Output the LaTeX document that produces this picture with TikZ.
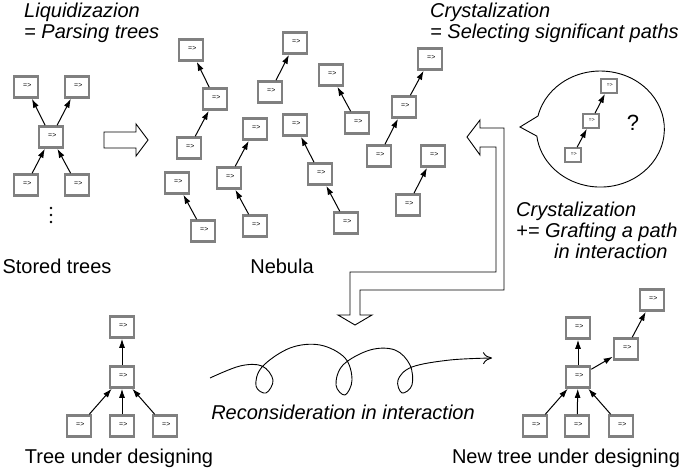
\documentclass[tikz,border=0pt]{standalone}
\usepackage{fontspec}
\setmainfont{Liberation Sans}
\usetikzlibrary{arrows.meta}
\tikzset{
  box/.style={draw=black!50, line width=2.6pt, fill=white, minimum width=24pt, minimum height=21pt, inner sep=0pt,
    path picture={\node[anchor=south west, font=\fontsize{7}{7}\selectfont, inner sep=3pt] at (path picture bounding box.south west) {=>};}},
  sbox/.style={box, line width=1.8pt, minimum width=16pt, minimum height=14pt,
    path picture={\node[anchor=south west, font=\fontsize{5}{5}\selectfont, inner sep=2pt] at (path picture bounding box.south west) {=>};}},
  edge/.style={-{Latex[length=9pt,width=6pt]}, line width=1pt},
  lbl/.style={font=\fontsize{20}{22}\selectfont, inner sep=0pt},
  ilbl/.style={font=\fontsize{20}{21}\selectfont\itshape, inner sep=0pt, align=left}
}
\begin{document}
\begin{tikzpicture}[x=1pt,y=-1pt]
\useasboundingbox (0,0) rectangle (685,470);
		%headings
		\node[ilbl, anchor=north west] (liq) at (24,3) {Liquidizazion\\= Parsing trees};
		\node[ilbl, anchor=north west] (cry) at (430,3) {Crystalization\\= Selecting significant paths};
		\node[ilbl, anchor=north west] (gra) at (516,202) {Crystalization\\+= Grafting a path\\\hspace*{1.9em}in interaction};
		\node[lbl] (stl) at (57,266) {Stored trees};
		\node[lbl] (nbl) at (282,266) {Nebula};
		\node[lbl] (tul) at (119,458) {Tree under designing};
		\node[lbl] (ntl) at (566,458) {New tree under designing};
		\node[ilbl] (rcl) at (343,412) {Reconsideration in interaction};

		%stored trees
		\node[box] (s1) at (26,87) {};
		\node[box] (s2) at (77,87) {};
		\node[box] (s0) at (51,137) {};
		\node[box] (s3) at (26,185) {};
		\node[box] (s4) at (77,185) {};
		\draw[edge] (s0) -- (s1);
		\draw[edge] (s0) -- (s2);
		\draw[edge] (s3) -- (s0);
		\draw[edge] (s4) -- (s0);
		\foreach \y in {208, 215, 222}{
			\fill (51,\y) circle (1.3pt);
		}

		%hollow arrow
		\draw[line width=0.9pt] (104,132) -- (136,132) -- (136,124) -- (148,140) -- (136,156) -- (136,148) -- (104,148) -- cycle;

		%nebula
		\node[box] (a1) at (191,50) {};
		\node[box] (a2) at (215,99) {};
		\node[box] (a3) at (189,148) {};
		\node[box] (b1) at (177,183) {};
		\node[box] (b2) at (203,231) {};
		\node[box] (c1) at (255,129) {};
		\node[box] (c2) at (229,178) {};
		\node[box] (c3) at (255,226) {};
		\node[box] (d1) at (295,43) {};
		\node[box] (d2) at (270,92) {};
		\node[box] (e1) at (295,125) {};
		\node[box] (e2) at (320,174) {};
		\node[box] (e3) at (346,223) {};
		\node[box] (f1) at (331,75) {};
		\node[box] (f2) at (357,123) {};
		\node[box] (g1) at (430,59) {};
		\node[box] (g2) at (404,107) {};
		\node[box] (g3) at (379,156) {};
		\node[box] (h1) at (433,156) {};
		\node[box] (h2) at (408,205) {};
		\draw[edge] (a3) -- (a2);
		\draw[edge] (a2) -- (a1);
		\draw[edge] (b2) -- (b1);
		\draw[edge] (c3) -- (c2);
		\draw[edge] (c2) -- (c1);
		\draw[edge] (d2) -- (d1);
		\draw[edge] (e3) -- (e2);
		\draw[edge] (e2) -- (e1);
		\draw[edge] (f2) -- (f1);
		\draw[edge] (g3) -- (g2);
		\draw[edge] (g2) -- (g1);
		\draw[edge] (h2) -- (h1);

		%bent hollow arrow
		\draw[line width=0.9pt] (467,137) -- (480,120) -- (480,128) -- (504,128) -- (504,290) -- (360,290) -- (360,315) -- (372,315) -- (355,325) -- (338,315) -- (350,315) -- (350,272) -- (496,272) -- (496,147) -- (480,147) -- (480,155) -- cycle;

		%thought bubble
		\draw[line width=0.9pt] (520,127) -- (538,116) arc[start angle=167, end angle=-173, x radius=64pt, y radius=58pt] -- cycle;
		\node[sbox] (q1) at (609,86) {};
		\node[sbox] (q2) at (591,121) {};
		\node[sbox] (q3) at (573,155) {};
		\draw[edge] (q3) -- (q2);
		\draw[edge] (q2) -- (q1);
		\node[font=\fontsize{22}{22}\selectfont] (qm) at (633,123) {?};

		%tree under designing
		\node[box] (t1) at (122,327) {};
		\node[box] (t0) at (122,377) {};
		\node[box] (t2) at (79,426) {};
		\node[box] (t3) at (122,426) {};
		\node[box] (t4) at (165,426) {};
		\draw[edge] (t0) -- (t1);
		\draw[edge] (t2) -- (t0);
		\draw[edge] (t3) -- (t0);
		\draw[edge] (t4) -- (t0);

		%curly arrow
		\draw[line width=0.9pt, -{To[length=9pt,width=12pt]}] plot[smooth, tension=0.6] coordinates {(210,378) (240,366) (262,366) (273,380) (266,393) (256,386) (262,367) (290,348) (320,345) (345,358) (352,380) (345,395) (336,385) (343,365) (370,350) (395,350) (410,365) (412,385) (402,393) (398,380) (412,367) (450,360) (492,358)};

		%new tree under designing
		\node[box] (n1) at (578,328) {};
		\node[box] (n0) at (578,377) {};
		\node[box] (n2) at (535,426) {};
		\node[box] (n3) at (577,426) {};
		\node[box] (n4) at (621,426) {};
		\node[box] (n5) at (626,349) {};
		\node[box] (n6) at (652,300) {};
		\draw[edge] (n0) -- (n1);
		\draw[edge] (n2) -- (n0);
		\draw[edge] (n3) -- (n0);
		\draw[edge] (n4) -- (n0);
		\draw[edge] (n0) -- (n5);
		\draw[edge] (n5) -- (n6);
\end{tikzpicture}
\end{document}
